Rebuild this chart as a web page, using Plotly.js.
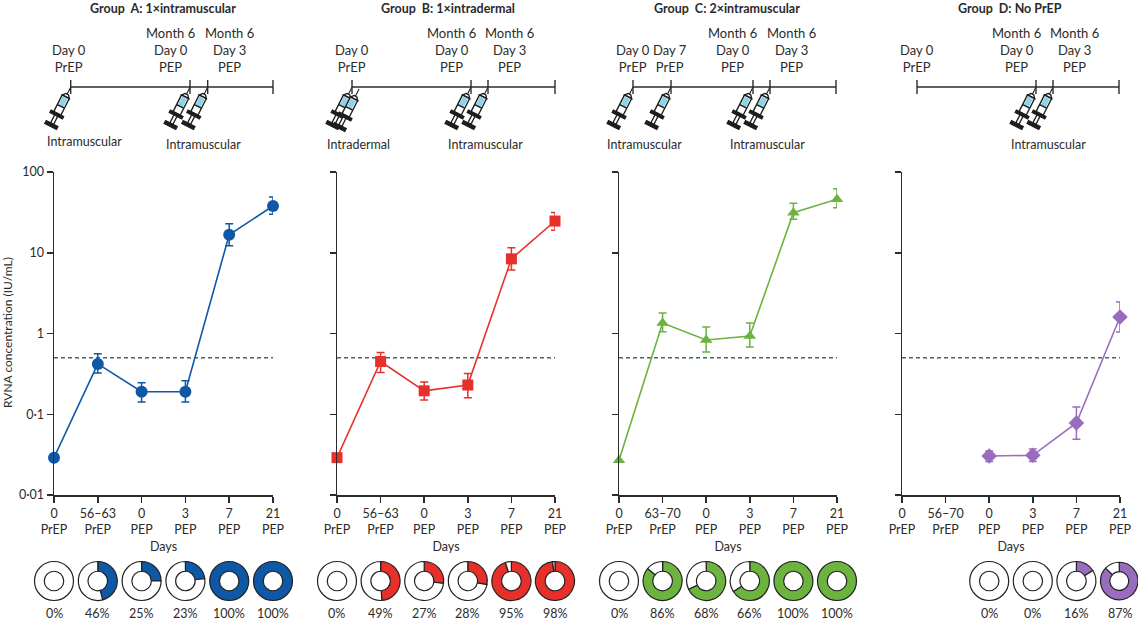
<!DOCTYPE html>
<html>
<head>
<meta charset="utf-8">
<script src="https://cdn.plot.ly/plotly-3.0.1.min.js"></script>
<style>
  body { margin: 0; background: #fff; }
  #graph { width: 1138px; height: 623px; }
</style>
</head>
<body>
<div id="graph"></div>
<script>
// ---- data ----
const daysAB = ['0<br>PrEP', '56–63<br>PrEP', '0<br>PEP', '3<br>PEP', '7<br>PEP', '21<br>PEP'];
const daysC  = ['0<br>PrEP', '63–70<br>PrEP', '0<br>PEP', '3<br>PEP', '7<br>PEP', '21<br>PEP'];
const daysD  = ['0<br>PrEP', '56–70<br>PrEP', '0<br>PEP', '3<br>PEP', '7<br>PEP', '21<br>PEP'];

// RVNA geometric means (IU/mL) and 95% CI
const gmtA = [0.029, 0.42, 0.19, 0.19, 16.7, 38];
const loA  = [null, 0.325, 0.142, 0.142, 12.2, 30];
const hiA  = [null, 0.56, 0.245, 0.26, 22.8, 49];

const gmtB = [0.029, 0.45, 0.195, 0.23, 8.4, 24.7];
const loB  = [null, 0.33, 0.15, 0.16, 6.1, 19];
const hiB  = [null, 0.58, 0.25, 0.32, 11.5, 31.6];

const gmtC = [0.027, 1.35, 0.83, 0.93, 31.3, 46];
const loC  = [null, 1.05, 0.59, 0.68, 26, 36];
const hiC  = [null, 1.79, 1.2, 1.35, 41, 62];

const gmtD = [null, null, 0.0304, 0.031, 0.078, 1.6];
const loD  = [null, null, 0.026, 0.026, 0.049, 1.04];
const hiD  = [null, null, 0.035, 0.037, 0.123, 2.45];

// % with RVNA >= 0.5 IU/mL
const seroA = [0, 46, 25, 23, 100, 100];
const seroB = [0, 49, 27, 28, 95, 98];
const seroC = [0, 86, 68, 66, 100, 100];
const seroD = [null, null, 0, 0, 16, 87];

const threshold = 0.5;
const yTickVals = [0.01, 0.1, 1, 10, 100];
const yTickText = ['0·01', '0·1', '1', '10', '100'];

// ---- page geometry ----
const W = 1138, H = 623;
const px = x => x / W;
const py = y => 1 - y / H;
const plotTop = 172, plotBottom = 495;
const lineY = 87;
const font = 'Lato, "Open Sans", sans-serif';
const ink = '#2b2b2b';

const groups = [
  {title: 'Group\u00a0 A: 1×intramuscular', titleX: 163, days: daysAB, gmt: gmtA, lo: loA, hi: hiA, sero: seroA,
   color: '#0f58a6', symbol: 'circle', size: 12, x0: 54, x1: 273},
  {title: 'Group\u00a0 B: 1×intradermal', titleX: 448, days: daysAB, gmt: gmtB, lo: loB, hi: hiB, sero: seroB,
   color: '#e8302a', symbol: 'square', size: 11, x0: 337, x1: 555},
  {title: 'Group\u00a0 C: 2×intramuscular', titleX: 727, days: daysC, gmt: gmtC, lo: loC, hi: hiC, sero: seroC,
   color: '#6cb33f', symbol: 'triangle-up', size: 11, x0: 619, x1: 837},
  {title: 'Group\u00a0 D: No PrEP', titleX: 1010, days: daysD, gmt: gmtD, lo: loD, hi: hiD, sero: seroD,
   color: '#9a6cbd', symbol: 'diamond', size: 12, x0: 902, x1: 1120}
];

// schedule diagrams above each panel (pixel layout)
const timelines = [
  {ticks: [70.7, 190, 207.7, 273], syringes: [70.7, 190, 207.7],
   labels: [[69, 'Day 0<br>PrEP'], [170, 'Month 6<br>Day 0<br>PEP'], [229, 'Month 6<br>Day 3<br>PEP']],
   routes: [[84, 142, 'Intramuscular'], [203, 145, 'Intramuscular']]},
  {ticks: [352, 471, 488, 555], syringes: [352, 359, 471, 488],
   labels: [[352, 'Day 0<br>PrEP'], [451, 'Month 6<br>Day 0<br>PEP'], [509, 'Month 6<br>Day 3<br>PEP']],
   routes: [[358, 145, 'Intradermal'], [485, 145, 'Intramuscular']]},
  {ticks: [633, 671, 753, 770, 836], syringes: [633, 671, 753, 770],
   labels: [[633, 'Day 0<br>PrEP'], [670, 'Day 7<br>PrEP'], [732, 'Month 6<br>Day 0<br>PEP'], [791, 'Month 6<br>Day 3<br>PEP']],
   routes: [[644, 145, 'Intramuscular'], [767, 145, 'Intramuscular']]},
  {ticks: [917, 1036, 1053, 1119], syringes: [1036, 1053],
   labels: [[917, 'Day 0<br>PrEP'], [1016, 'Month 6<br>Day 0<br>PEP'], [1074, 'Month 6<br>Day 3<br>PEP']],
   routes: [[1048, 144, 'Intramuscular']]}
];

// syringe icon, needle tip at (30.4, 4.5) of a 40x50 box
const syringeSvg =
  "<svg xmlns='http://www.w3.org/2000/svg' width='40' height='50' viewBox='0 0 40 50'>" +
  "<g transform='translate(20,25) rotate(27)' stroke='#1e1e1e' stroke-width='1.4'>" +
  "<line x1='0' y1='-23' x2='0' y2='-15' stroke-width='1.1'/>" +
  "<path d='M-1.6,-15 L1.6,-15 L4,-12 L-4,-12 Z' fill='#fff'/>" +
  "<rect x='-4' y='-12' width='8' height='18.5' fill='#fff'/>" +
  "<rect x='-2.8' y='-10.8' width='5.6' height='9.5' fill='#8fd3ea' stroke='none'/>" +
  "<line x1='-4' y1='-1.2' x2='4' y2='-1.2'/>" +
  "<rect x='-7' y='6.5' width='14' height='2.6' fill='#1e1e1e'/>" +
  "<rect x='-1.7' y='9.1' width='3.4' height='9' fill='#fff'/>" +
  "<rect x='-6.5' y='18.1' width='13' height='3.2' fill='#1e1e1e'/>" +
  "</g></svg>";
const syringeSrc = 'data:image/svg+xml;charset=utf-8,' + encodeURIComponent(syringeSvg);

const data = [];
const layout = {
  width: W, height: H,
  margin: {l: 0, r: 0, t: 0, b: 0},
  paper_bgcolor: '#fff', plot_bgcolor: 'rgba(0,0,0,0)',
  showlegend: false,
  font: {family: font, size: 12, color: ink},
  annotations: [], shapes: [], images: []
};

groups.forEach((g, k) => {
  const n = k === 0 ? '' : String(k + 1);
  const idx = g.days.map((d, i) => i);

  layout['xaxis' + n] = {
    domain: [px(g.x0), px(g.x1)], anchor: 'y' + n,
    range: [0, 5], tickvals: idx, ticktext: g.days,
    ticks: 'outside', ticklen: 6, tickwidth: 1.5, tickcolor: ink,
    showline: true, linecolor: ink, linewidth: 1.5,
    showgrid: false, zeroline: false, fixedrange: true,
    tickfont: {size: 12.5, color: ink},
    title: {text: 'Days', font: {size: 12.5, color: ink}, standoff: 6}
  };
  layout['yaxis' + n] = {
    domain: [py(plotBottom), py(plotTop)], anchor: 'x' + n,
    type: 'log', range: [-2, 2],
    tickvals: yTickVals, ticktext: yTickText, showticklabels: k === 0,
    ticks: 'outside', ticklen: 6, tickwidth: 1.5, tickcolor: ink,
    showline: true, linecolor: ink, linewidth: 1.5,
    showgrid: false, zeroline: false, fixedrange: true,
    tickfont: {size: 12.5, color: ink}
  };

  // threshold 0.5 IU/mL
  data.push({
    x: [0, 5], y: [threshold, threshold], xaxis: 'x' + n, yaxis: 'y' + n,
    mode: 'lines', line: {color: '#3f6677', width: 1.4, dash: '4px,3px'},
    hoverinfo: 'skip', cliponaxis: false
  });

  // GMT with 95% CI
  const xs = [], ys = [], ep = [], em = [];
  g.gmt.forEach((v, i) => {
    if (v == null) return;
    xs.push(i); ys.push(v);
    ep.push(g.hi[i] == null ? NaN : g.hi[i] - v);
    em.push(g.lo[i] == null ? NaN : v - g.lo[i]);
  });
  data.push({
    x: xs, y: ys, xaxis: 'x' + n, yaxis: 'y' + n,
    mode: 'lines+markers', cliponaxis: false,
    line: {color: g.color, width: 1.6},
    marker: {color: g.color, symbol: g.symbol, size: g.size},
    error_y: {type: 'data', array: ep, arrayminus: em, symmetric: false,
              color: g.color, thickness: 1.5, width: 4}
  });

  // donuts: proportion with RVNA >= 0.5 IU/mL
  const step = (g.x1 - g.x0) / 5;
  g.sero.forEach((p, i) => {
    if (p == null) return;
    const cx = g.x0 + i * step, cy = 581, r = 19.5;
    const vals = [], cols = [], labs = [];
    if (p > 0) { vals.push(p); cols.push(g.color); labs.push('yes'); }
    if (p < 100) { vals.push(100 - p); cols.push('#ffffff'); labs.push('no'); }
    data.push({
      type: 'pie', values: vals, labels: labs, hole: 0.5,
      sort: false, direction: 'clockwise', rotation: 0,
      textinfo: 'none', hoverinfo: 'skip',
      marker: {colors: cols, line: {color: '#222', width: 1.2}},
      domain: {x: [px(cx - r), px(cx + r)], y: [py(cy + r), py(cy - r)]}
    });
    layout.annotations.push({
      xref: 'paper', yref: 'paper', x: px(cx), y: py(613.5),
      text: p + '%', showarrow: false, font: {size: 12.5, color: ink},
      xanchor: 'center', yanchor: 'middle', borderpad: 0
    });
  });

  // group title
  layout.annotations.push({
    xref: 'paper', yref: 'paper', x: px(g.titleX), y: py(8),
    text: '<b>' + g.title + '</b>', showarrow: false,
    font: {size: 12.5, color: ink}, xanchor: 'center', yanchor: 'middle'
  });

  // schedule diagram
  const t = timelines[k];
  layout.shapes.push({
    type: 'line', xref: 'paper', yref: 'paper',
    x0: px(t.ticks[0]), x1: px(t.ticks[t.ticks.length - 1]), y0: py(lineY), y1: py(lineY),
    line: {color: ink, width: 1.4}
  });
  t.ticks.forEach(tx => layout.shapes.push({
    type: 'line', xref: 'paper', yref: 'paper',
    x0: px(tx), x1: px(tx), y0: py(lineY - 7), y1: py(lineY + 7),
    line: {color: ink, width: 1.4}
  }));
  t.labels.forEach(([lx, txt]) => layout.annotations.push({
    xref: 'paper', yref: 'paper', x: px(lx), y: py(77),
    text: txt, showarrow: false, font: {size: 13, color: ink},
    xanchor: 'center', yanchor: 'bottom'
  }));
  t.routes.forEach(([rx, ry, txt]) => layout.annotations.push({
    xref: 'paper', yref: 'paper', x: px(rx), y: py(ry),
    text: txt, showarrow: false, font: {size: 12.5, color: ink},
    xanchor: 'center', yanchor: 'middle'
  }));
  t.syringes.forEach((sx, j) => {
    const dy = (k === 1 && j === 1) ? 2 : 0;
    layout.images.push({
      source: syringeSrc, xref: 'paper', yref: 'paper',
      x: px(sx - 30.4), y: py(lineY + dy - 4.5),
      sizex: 40 / W, sizey: 50 / H, sizing: 'stretch',
      xanchor: 'left', yanchor: 'top', layer: 'above'
    });
  });
});

// y-axis title of the first panel
layout.annotations.push({
  xref: 'paper', yref: 'paper', x: px(7), y: py(333),
  text: 'RVNA concentration (IU/mL)', textangle: -90, showarrow: false,
  font: {size: 12, color: ink}, xanchor: 'center', yanchor: 'middle', borderpad: 0
});

Plotly.newPlot('graph', data, layout, {staticPlot: true});
</script>
</body>
</html>
